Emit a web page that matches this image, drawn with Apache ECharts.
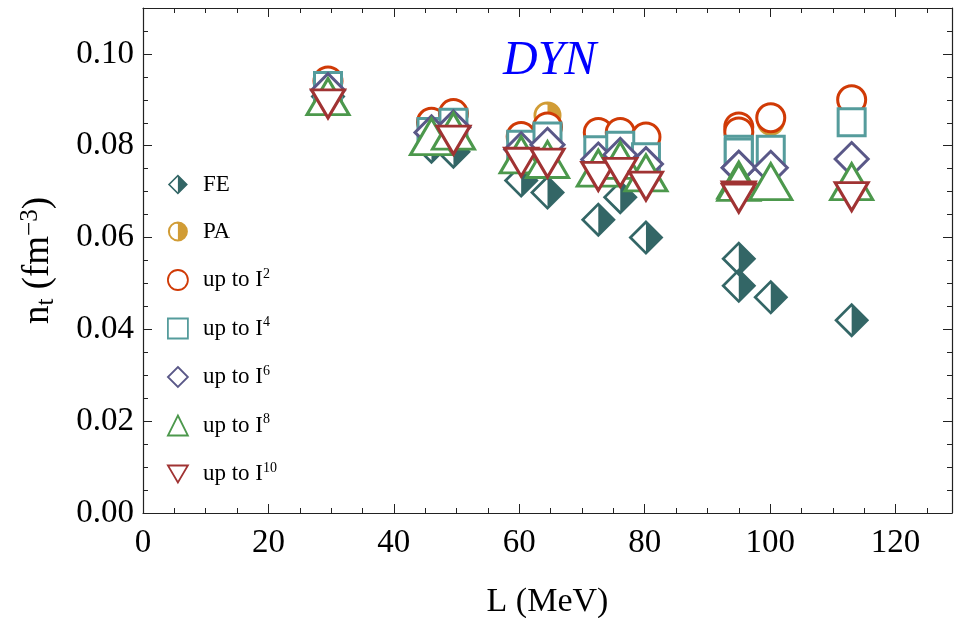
<!DOCTYPE html>
<html><head><meta charset="utf-8">
<script src="https://cdn.jsdelivr.net/npm/echarts@6/dist/echarts.min.js"></script>
<style>html,body{margin:0;padding:0;background:#fff}#c{width:954px;height:618px}</style>
</head><body><div id="c"></div>
<script>
// L (MeV) of each model
const L    = [29.5, 46, 49.5, 60.3, 64.5, 72.6, 76.1, 80.2, 95, 95, 100.1, 113];
const FE   = [0.0907, 0.0798, 0.0787, 0.0724, 0.0698, 0.0639, 0.0688, 0.0600, 0.0554, 0.0495, 0.0470, 0.0420];
const PA   = [0.0941, 0.0851, 0.0870, 0.0820, 0.0866, 0.0829, 0.0829, 0.0819, 0.0838, 0.0828, 0.0852, 0.0900];
const I2   = [0.0941, 0.0851, 0.0870, 0.0820, 0.0841, 0.0829, 0.0829, 0.0819, 0.0841, 0.0830, 0.0861, 0.0900];
const I4   = [0.0930, 0.0830, 0.0850, 0.0802, 0.0820, 0.0790, 0.0800, 0.0775, 0.0791, 0.0785, 0.0791, 0.0851];
const I6   = [0.0921, 0.0829, 0.0840, 0.0792, 0.0802, 0.0770, 0.0780, 0.0760, 0.0752, 0.0752, 0.0752, 0.0771];
const I8   = [0.0907, 0.0820, 0.0832, 0.0780, 0.0770, 0.0751, 0.0768, 0.0741, 0.0725, 0.0720, 0.0722, 0.0722];
const I10  = [0.0891, null,   0.0812, 0.0764, 0.0762, 0.0733, 0.0742, 0.0712, 0.0691, 0.0686, null,   0.0689];
const xTicks = [0, 20, 40, 60, 80, 100, 120];
const yTicks = [0.00, 0.02, 0.04, 0.06, 0.08, 0.10];

const FONT = 'Liberation Serif';
const chart = echarts.init(document.getElementById('c'), null, {renderer: 'canvas'});

const SYM_FE = 'path://M50 0 L100 50 L50 100 Z M50 0 L0 50 L50 100 L50 89 L11 50 L50 11 Z';
const SYM_PA = 'path://M50 0 A50 50 0 0 1 50 100 Z M50 0 A50 50 0 0 0 50 100 L50 90 A40 40 0 0 1 50 10 Z';
const SYM_DOWN = 'path://M0 0 L100 0 L50 85 Z';

function pts(vals) {
  const out = [];
  L.forEach((x, i) => { if (vals[i] != null) out.push([x, vals[i]]); });
  return out;
}
function ser(name, vals, symbol, size, color, mode) {
  let itemStyle;
  if (mode === 'filled') itemStyle = {color: color, borderWidth: 0, opacity: 1};
  else if (mode === 'bg') itemStyle = {color: '#fff', borderWidth: 0, opacity: 1};
  else itemStyle = {color: '#fff', borderColor: color, borderWidth: 3, opacity: 1};
  return {
    name, type: 'scatter', data: pts(vals), symbol, symbolSize: size,
    xAxisIndex: 0, yAxisIndex: 0, itemStyle,
    emphasis: {disabled: true}, silent: true, legendHoverLink: false
  };
}
const C = {FE:'#336666', PA:'#d19c35', I2:'#d03a06', I4:'#559c9c', I6:'#5a5888', I8:'#4c984c', I10:'#a03333'};
const series = [
  ser('_FEbg', FE, 'diamond', 35, '#fff', 'bg'),
  ser('FE', FE, SYM_FE, 35, C.FE, 'filled'),
  ser('_PAbg', PA, 'circle', 28, '#fff', 'bg'),
  ser('PA', PA, SYM_PA, 28, C.PA, 'filled'),
  ser('I2', I2, 'circle', 28, C.I2, 'open'),
  ser('I4', I4, 'rect', 27, C.I4, 'open'),
  ser('I6', I6, 'diamond', [33, 33], C.I6, 'open'),
  ser('I8', I8, 'triangle', [42, 36], C.I8, 'open'),
  ser('I10', I10, SYM_DOWN, [33, 28], C.I10, 'open')
];
const legendNames = ['FE', 'PA', 'I2', 'I4', 'I6', 'I8', 'I10'];
const legendLabel = {FE:'FE', PA:'PA', I2:'up to I{sup|2}', I4:'up to I{sup|4}', I6:'up to I{sup|6}', I8:'up to I{sup|8}', I10:'up to I{sup|10}'};

const tickLabelStyle = {fontFamily: FONT, fontSize: 33, color: '#000'};
function ax(dimMax, pos, interval, major, showLabel, fmt) {
  return {
    type: 'value', min: 0, max: dimMax, interval, position: pos,
    axisLine: {show: major, onZero: false, lineStyle: {color: '#222', width: 1.2}},
    axisTick: {show: true, inside: true, length: major ? 9 : 5, lineStyle: {color: '#222', width: 1}},
    axisLabel: showLabel ? Object.assign({show: true, showMaxLabel: false, formatter: fmt}, tickLabelStyle) : {show: false},
    splitLine: {show: false}
  };
}
const fmtX = v => xTicks.includes(v) ? String(v) : '';
const fmtY = v => { const t = yTicks.find(k => Math.abs(k - v) < 1e-9); return t == null ? '' : t.toFixed(2); };

const xAxes = [ax(129, 'bottom', 20, true, true, fmtX), ax(129, 'bottom', 5, false),
               ax(129, 'top', 20, true), ax(129, 'top', 5, false)];
xAxes[0].axisLabel.margin = 14;
Object.assign(xAxes[0], {name: 'L (MeV)', nameLocation: 'middle', nameGap: 72,
  nameTextStyle: {fontFamily: FONT, fontSize: 34, color: '#000'}});

const yAxes = [ax(0.11, 'left', 0.02, true, true, fmtY), ax(0.11, 'left', 0.005, false),
               ax(0.11, 'right', 0.02, true), ax(0.11, 'right', 0.005, false)];
yAxes[0].axisLabel.margin = 9;
Object.assign(yAxes[0], {name: '{n|n}{sub|t}{n| (fm}{sup|−3}{n|)}', nameLocation: 'middle', nameGap: 84, nameRotate: 90,
  nameTextStyle: {fontFamily: FONT, fontSize: 37, color: '#000',
    rich: {
      n: {fontFamily: FONT, fontSize: 37, color: '#000'},
      sub: {fontFamily: FONT, fontSize: 25, color: '#000', padding: [16, 0, 0, 0]},
      sup: {fontFamily: FONT, fontSize: 25, color: '#000', padding: [0, 0, 16, 0]}
    }}});

const option = {
  animation: false,
  backgroundColor: '#fff',
  grid: {left: 143, right: 2, top: 8, bottom: 105, containLabel: false, outerBoundsMode: 'none'},
  xAxis: xAxes,
  yAxis: yAxes,
  legend: {
    orient: 'vertical', left: 162, top: 168, itemWidth: 20, itemHeight: 20, itemGap: 24,
    selectedMode: false,
    data: legendNames.map(n => ({name: n, itemStyle: (n === 'FE' || n === 'PA') ? {borderWidth: 0, opacity: 1} : {borderWidth: 1.8, opacity: 1}})),
    formatter: n => legendLabel[n],
    textStyle: {fontFamily: FONT, fontSize: 23, color: '#000', padding: [0, 0, 0, 10],
      rich: {sup: {fontFamily: FONT, fontSize: 14, color: '#000', padding: [0, 0, 12, 0]}}}
  },
  graphic: [{type: 'text', left: 503, top: 37, silent: true,
    style: {text: 'DYN', fontFamily: FONT, fontSize: 48, fontStyle: 'italic', fill: '#0000ff'}}],
  series
};
chart.setOption(option);
</script>
</body></html>
